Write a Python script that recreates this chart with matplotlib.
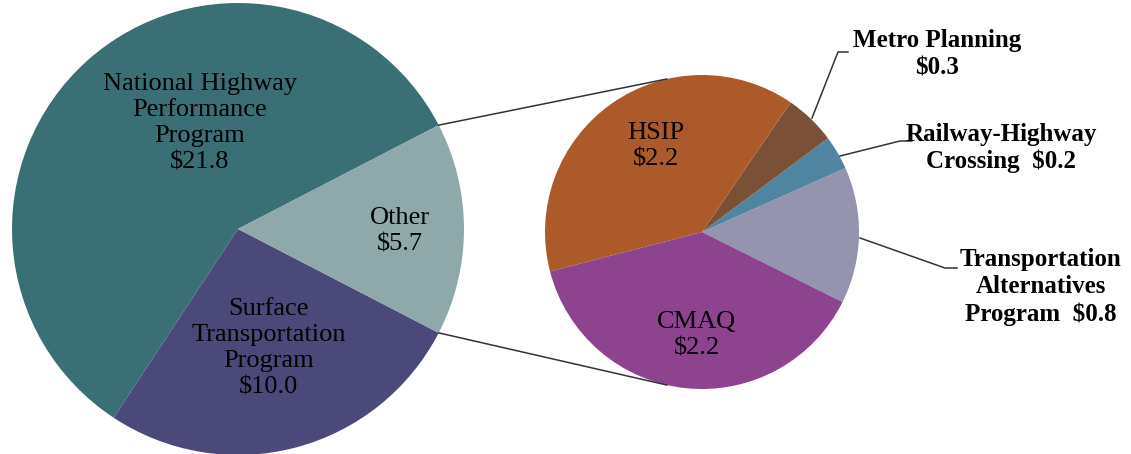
import numpy as np
import matplotlib
matplotlib.use("Agg")
import matplotlib.pyplot as plt

plt.rcParams["font.family"] = ["Liberation Serif", "DejaVu Serif"]

W, H = 1131, 454

# main pie
main_labels = ["National Highway\nPerformance\nProgram\n$21.8",
               "Surface\nTransportation\nProgram\n$10.0",
               "Other\n$5.7"]
main_values = [21.8, 10.0, 5.7]
main_colors = ["#3A7075", "#4A497A", "#8FA9AB"]

# breakdown of "Other"
sub_names = ["Transportation\nAlternatives\nProgram  $0.8",
             "Railway-Highway\nCrossing  $0.2",
             "Metro Planning\n$0.3",
             "HSIP\n$2.2",
             "CMAQ\n$2.2"]
sub_values = [0.8, 0.2, 0.3, 2.2, 2.2]
sub_colors = ["#9594AE", "#4F85A1", "#7A5036", "#AC5A29", "#8E438F"]


def y(v):
    return H - v


fig = plt.figure(figsize=(W / 100, H / 100), dpi=100)
ax = fig.add_axes([0, 0, 1, 1])

c1, r1 = (238, y(229)), 226
c2, r2 = (702, y(232)), 157

other_half = main_values[2] / sum(main_values) * 180
ax.pie(main_values, colors=main_colors, center=c1, radius=r1,
       startangle=other_half, counterclock=True,
       wedgeprops=dict(linewidth=0))
ax.pie(sub_values, colors=sub_colors, center=c2, radius=r2,
       startangle=-26.5, counterclock=True,
       wedgeprops=dict(linewidth=0))

ax.set_xlim(0, W)
ax.set_ylim(0, H)
ax.set_aspect("equal")
ax.axis("off")

# connector lines between the two pies
for sgn in (1, -1):
    a1 = np.radians(sgn * other_half)
    a2 = np.radians(sgn * 103)
    ax.plot([c1[0] + r1 * np.cos(a1), c2[0] + r2 * np.cos(a2)],
            [c1[1] + r1 * np.sin(a1), c2[1] + r2 * np.sin(a2)],
            color="#333333", lw=1.1)

fs = 19
ls = 1.25
ax.text(200, y(123), main_labels[0], ha="center", va="center", fontsize=fs, linespacing=ls)
ax.text(269, y(348), main_labels[1], ha="center", va="center", fontsize=fs, linespacing=ls)
ax.text(400, y(231), main_labels[2], ha="center", va="center", fontsize=fs, linespacing=ls)
ax.text(656, y(146), sub_names[3], ha="center", va="center", fontsize=fs, linespacing=ls)
ax.text(697, y(335), sub_names[4], ha="center", va="center", fontsize=fs, linespacing=ls)

# outside labels with leader lines
fo = 18
ax.text(937, y(54), sub_names[2], ha="center", va="center", fontsize=fo,
        fontweight="bold", linespacing=ls)
ax.text(1001, y(148), sub_names[1], ha="center", va="center", fontsize=fo,
        fontweight="bold", linespacing=1.15)
ax.text(1041, y(287), sub_names[0], ha="center", va="center", fontsize=fo,
        fontweight="bold", linespacing=ls)

leaders = [([812, 838, 848], [118, 52, 52]),
           ([840, 900, 912], [156, 141, 141]),
           ([860, 945, 957], [238, 268, 268])]
for xs, ys in leaders:
    ax.plot(xs, [y(v) for v in ys], color="#333333", lw=1.1)

fig.savefig("out.png", dpi=100)
